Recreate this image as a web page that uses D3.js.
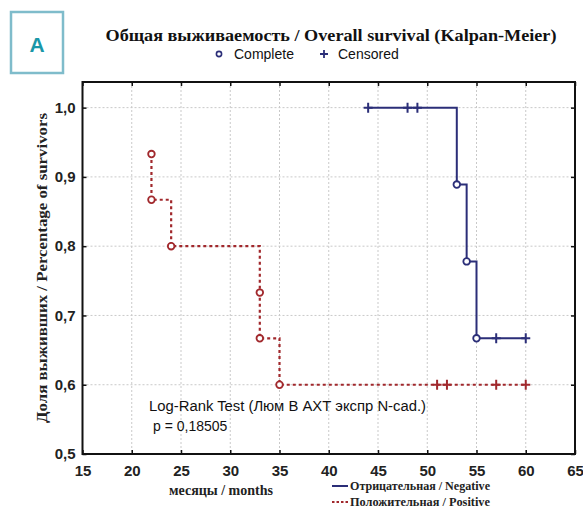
<!DOCTYPE html>
<html>
<head>
<meta charset="utf-8">
<script src="https://cdn.jsdelivr.net/npm/d3@7/dist/d3.min.js"></script>
<style>
  html, body { margin: 0; padding: 0; background: #fff; }
  svg { display: block; }
</style>
</head>
<body>
<svg id="chart" width="583" height="508"></svg>
<script>
// ---- Data ----
const xTicks = [15, 20, 25, 30, 35, 40, 45, 50, 55, 60, 65];
const yTicks = [0.5, 0.6, 0.7, 0.8, 0.9, 1.0];

// Negative group (solid blue)
const negCompleteT = [53, 54, 55];
const negCompleteS = [0.889, 0.778, 0.667];
const negCensoredT = [44, 48, 49, 57, 60];
const negCensoredS = [1.0, 1.0, 1.0, 0.667, 0.667];

// Positive group (dotted red)
const posCompleteT = [22, 22, 24, 33, 33, 35];
const posCompleteS = [0.933, 0.867, 0.8, 0.733, 0.667, 0.6];
const posCensoredT = [51, 52, 57, 60];
const posCensoredS = [0.6, 0.6, 0.6, 0.6];

const titleText = "Общая выживаемость / Overall survival (Kalpan-Meier)";
const yTitle = "Доля выживших / Percentage of survivors";
const xTitle = "месяцы / months";
const legendNames = ["Отрицательная / Negative", "Положительная / Positive"];
const noteLines = ["Log-Rank Test (Люм В АХТ экспр N-cad.)", "p = 0,18505"];

// ---- Setup ----
const svg = d3.select("#chart");
const blue = "#2b2e78";
const red = "#a1282c";
const serif = "'Liberation Serif', 'Times New Roman', serif";
const sans = "'Liberation Sans', Arial, sans-serif";

const pL = 82.5, pR = 575, pT = 82, pB = 454;
const x = d3.scaleLinear().domain([15, 65]).range([pL, pR]);
const y = d3.scaleLinear().domain([0.5, 1.037]).range([pB, pT]);

const loc = d3.formatLocale({decimal: ",", thousands: " ", grouping: [3], currency: ["", ""]});
const fmtY = loc.format(".1f");

// "A" box
svg.append("rect").attr("x", 11).attr("y", 12).attr("width", 52).attr("height", 61)
  .attr("fill", "none").attr("stroke", "#7fbccb").attr("stroke-width", 2.5);
svg.append("text").attr("x", 37).attr("y", 52).attr("text-anchor", "middle")
  .attr("font-family", sans).attr("font-weight", "bold").attr("font-size", 21)
  .attr("fill", "#1a97a8").text("A");

// Title
svg.append("text").attr("x", 331).attr("y", 41).attr("text-anchor", "middle")
  .attr("font-family", serif).attr("font-weight", "bold").attr("font-size", 16.5)
  .attr("fill", "#111")
  .attr("textLength", 451).attr("lengthAdjust", "spacingAndGlyphs")
  .text(titleText);

// Top legend
svg.append("circle").attr("cx", 219).attr("cy", 54).attr("r", 2.6)
  .attr("fill", "#fff").attr("stroke", blue).attr("stroke-width", 1.6);
svg.append("text").attr("x", 234).attr("y", 59).attr("font-family", sans)
  .attr("font-size", 14).attr("fill", "#111").text("Complete");
svg.append("path").attr("d", "M320,54h8M324,50v8").attr("stroke", blue).attr("stroke-width", 1.8);
svg.append("text").attr("x", 338).attr("y", 59).attr("font-family", sans)
  .attr("font-size", 14).attr("fill", "#111").text("Censored");

// Grid
const grid = svg.append("g");
grid.selectAll("line.gx").data(xTicks.filter(d => d > 15 && d < 65)).enter().append("line")
  .attr("x1", d => x(d)).attr("x2", d => x(d)).attr("y1", pT).attr("y2", pB)
  .attr("stroke", "#c9c9c9").attr("stroke-width", 1).attr("stroke-dasharray", "2,2");
grid.selectAll("line.gy").data(yTicks.filter(d => d > 0.5)).enter().append("line")
  .attr("x1", pL).attr("x2", pR).attr("y1", d => y(d)).attr("y2", d => y(d))
  .attr("stroke", "#c9c9c9").attr("stroke-width", 1).attr("stroke-dasharray", "2,2");

// Axes
function styleAxis(g) {
  g.select(".domain").remove();
  g.selectAll(".tick line").attr("stroke", "#111").attr("stroke-width", 1.5);
  g.selectAll("text").attr("font-family", sans).attr("font-size", 15)
    .attr("font-weight", "bold").attr("fill", "#222");
}
svg.append("g").attr("transform", `translate(0,${pB})`)
  .call(d3.axisBottom(x).tickValues(xTicks).tickSizeInner(-4).tickSizeOuter(0).tickPadding(11))
  .call(styleAxis);
svg.append("g").attr("transform", `translate(0,${pT})`)
  .call(d3.axisTop(x).tickValues(xTicks).tickSizeInner(-4).tickSizeOuter(0).tickFormat(""))
  .call(styleAxis);
svg.append("g").attr("transform", `translate(${pL},0)`)
  .call(d3.axisLeft(y).tickValues(yTicks).tickSizeInner(-4).tickSizeOuter(0).tickPadding(7).tickFormat(fmtY))
  .call(styleAxis);
svg.append("g").attr("transform", `translate(${pR},0)`)
  .call(d3.axisRight(y).tickValues(yTicks).tickSizeInner(-4).tickSizeOuter(0).tickFormat(""))
  .call(styleAxis);

// Frame
svg.append("rect").attr("x", pL).attr("y", pT).attr("width", pR - pL).attr("height", pB - pT)
  .attr("fill", "none").attr("stroke", "#111").attr("stroke-width", 2);

// Curves
function toPts(T, S) { return T.map((t, i) => ({t, s: S[i]})); }
function sortedAll(cT, cS, zT, zS) {
  return toPts(cT, cS).concat(toPts(zT, zS)).sort((a, b) => a.t - b.t || b.s - a.s);
}
const line = d3.line().x(d => x(d.t)).y(d => y(d.s)).curve(d3.curveStepAfter);

const negAll = sortedAll(negCompleteT, negCompleteS, negCensoredT, negCensoredS);
const posAll = sortedAll(posCompleteT, posCompleteS, posCensoredT, posCensoredS);

svg.append("path").attr("d", line(posAll)).attr("fill", "none")
  .attr("stroke", red).attr("stroke-width", 2.2).attr("stroke-dasharray", "3,3");
svg.append("path").attr("d", line(negAll)).attr("fill", "none")
  .attr("stroke", blue).attr("stroke-width", 2);

function censors(T, S, color) {
  svg.append("g").selectAll("path").data(toPts(T, S)).enter().append("path")
    .attr("d", d => `M${x(d.t) - 4.5},${y(d.s)}h9M${x(d.t)},${y(d.s) - 5}v10`)
    .attr("stroke", color).attr("stroke-width", 2);
}
function completes(T, S, color) {
  svg.append("g").selectAll("circle").data(toPts(T, S)).enter().append("circle")
    .attr("cx", d => x(d.t)).attr("cy", d => y(d.s)).attr("r", 3.3)
    .attr("fill", "#fff").attr("stroke", color).attr("stroke-width", 1.8);
}
censors(posCensoredT, posCensoredS, red);
censors(negCensoredT, negCensoredS, blue);
completes(posCompleteT, posCompleteS, red);
completes(negCompleteT, negCompleteS, blue);

// Note
svg.append("text").attr("x", 149).attr("y", 411).attr("font-family", sans)
  .attr("font-size", 14).attr("fill", "#111")
  .attr("textLength", 277).attr("lengthAdjust", "spacingAndGlyphs").text(noteLines[0]);
svg.append("text").attr("x", 153).attr("y", 431).attr("font-family", sans)
  .attr("font-size", 14).attr("fill", "#111").text(noteLines[1]);

// Axis titles
svg.append("text").attr("transform", "translate(47,268) rotate(-90)").attr("text-anchor", "middle")
  .attr("font-family", serif).attr("font-weight", "bold").attr("font-size", 15).attr("fill", "#222")
  .attr("textLength", 310).attr("lengthAdjust", "spacingAndGlyphs").text(yTitle);
svg.append("text").attr("x", 221).attr("y", 495).attr("text-anchor", "middle")
  .attr("font-family", serif).attr("font-weight", "bold").attr("font-size", 14).attr("fill", "#222")
  .text(xTitle);

// Bottom legend
svg.append("line").attr("x1", 332).attr("x2", 348).attr("y1", 486).attr("y2", 486)
  .attr("stroke", blue).attr("stroke-width", 2);
svg.append("line").attr("x1", 332).attr("x2", 348).attr("y1", 502).attr("y2", 502)
  .attr("stroke", red).attr("stroke-width", 2.2).attr("stroke-dasharray", "2.5,2");
svg.append("text").attr("x", 350).attr("y", 490).attr("font-family", serif).attr("font-weight", "bold")
  .attr("font-size", 11.5).attr("fill", "#222").attr("textLength", 140).attr("lengthAdjust", "spacingAndGlyphs")
  .text(legendNames[0]);
svg.append("text").attr("x", 350).attr("y", 506).attr("font-family", serif).attr("font-weight", "bold")
  .attr("font-size", 11.5).attr("fill", "#222").attr("textLength", 140).attr("lengthAdjust", "spacingAndGlyphs")
  .text(legendNames[1]);
</script>
</body>
</html>
